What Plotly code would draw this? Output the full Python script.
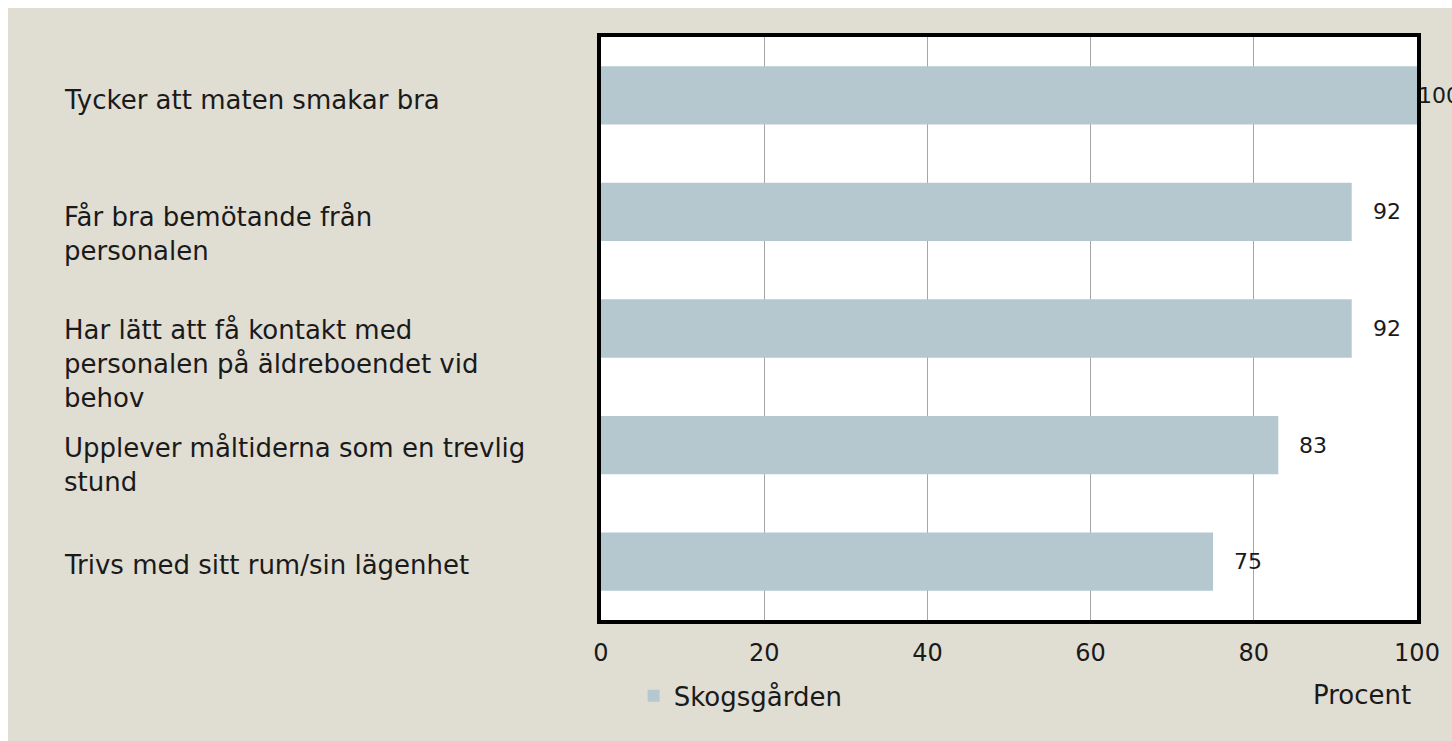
import plotly.graph_objects as go

categories = [
    "Tycker att maten smakar bra",
    "Får bra bemötande från<br>personalen",
    "Har lätt att få kontakt med<br>personalen på äldreboendet vid<br>behov",
    "Upplever måltiderna som en trevlig<br>stund",
    "Trivs med sitt rum/sin lägenhet",
]
cat_keys = ["c1", "c2", "c3", "c4", "c5"]
values = [100, 92, 92, 83, 75]
series_name = "Skogsgården"
tick_vals = [0, 20, 40, 60, 80, 100]
label_shift = [-1, 19, 19, 19, 19]
cat_yshift = [12, 12, 16, 14, 14]

FONT = "DejaVu Sans"
BG = "#e0ddd3"
BAR = "#b5c8d0"
TXT = "#1a1a1a"

W, H = 1452, 741
L, T, PW, PH = 601, 37, 816, 583
R, B = W - L - PW, H - T - PH

fig = go.Figure()
fig.add_trace(go.Bar(
    x=values, y=cat_keys, orientation="h", name=series_name,
    marker=dict(color=BAR, line=dict(width=0)),
    showlegend=True,
))

annotations = []
for key, lab, ys in zip(cat_keys, categories, cat_yshift):
    annotations.append(dict(
        x=-0.661, xref="paper", y=key, yref="y", text=lab,
        xanchor="left", yanchor="top", align="left", yshift=ys,
        showarrow=False, font=dict(family=FONT, size=26, color=TXT),
    ))
for key, v, s in zip(cat_keys, values, label_shift):
    annotations.append(dict(
        x=v, xref="x", y=key, yref="y", text=str(v),
        xanchor="left", yanchor="middle", xshift=s,
        showarrow=False, font=dict(family=FONT, size=22, color=TXT),
    ))
annotations.append(dict(
    x=1, xref="paper", y=-0.129, yref="paper", text="Procent",
    xanchor="right", yanchor="middle", xshift=-4,
    showarrow=False, font=dict(family=FONT, size=26, color=TXT),
))

# background panel (beige, inset 8px from top/left) and white plot area
shapes = [
    dict(type="rect", xref="paper", yref="paper", layer="below",
         x0=(8 - L) / PW, x1=(W - L) / PW + 0.01,
         y0=-(H - T - PH) / PH - 0.01, y1=(PH + T - 8) / PH,
         fillcolor=BG, line=dict(width=0)),
    dict(type="rect", xref="paper", yref="paper", layer="below",
         x0=0, x1=1, y0=0, y1=1, fillcolor="white", line=dict(width=0)),
]

fig.update_layout(
    width=W, height=H,
    margin=dict(l=L, r=R, t=T, b=B),
    paper_bgcolor="white", plot_bgcolor="white",
    bargap=0.5,
    font=dict(family=FONT, size=22, color=TXT),
    xaxis=dict(
        range=[0, 100], tickvals=tick_vals, showgrid=True,
        gridcolor="#a6a6a6", gridwidth=1,
        showline=True, linecolor="black", linewidth=4, mirror=True,
        ticks="outside", ticklen=8, tickcolor="rgba(0,0,0,0)",
        tickfont=dict(family=FONT, size=24, color=TXT), zeroline=False,
    ),
    yaxis=dict(
        range=[4.5, -0.5], showticklabels=False, showgrid=False,
        showline=True, linecolor="black", linewidth=4, mirror=True,
        ticks="", zeroline=False,
    ),
    legend=dict(
        orientation="h", x=0.04, xanchor="left", y=-0.13, yanchor="middle",
        bgcolor="rgba(0,0,0,0)", font=dict(family=FONT, size=26, color=TXT),
    ),
    shapes=shapes,
    annotations=annotations,
)

fig.write_html(
    "out.html",
    config={"displayModeBar": False},
    post_script="document.body.style.margin='0';document.body.style.overflow='hidden';",
)
